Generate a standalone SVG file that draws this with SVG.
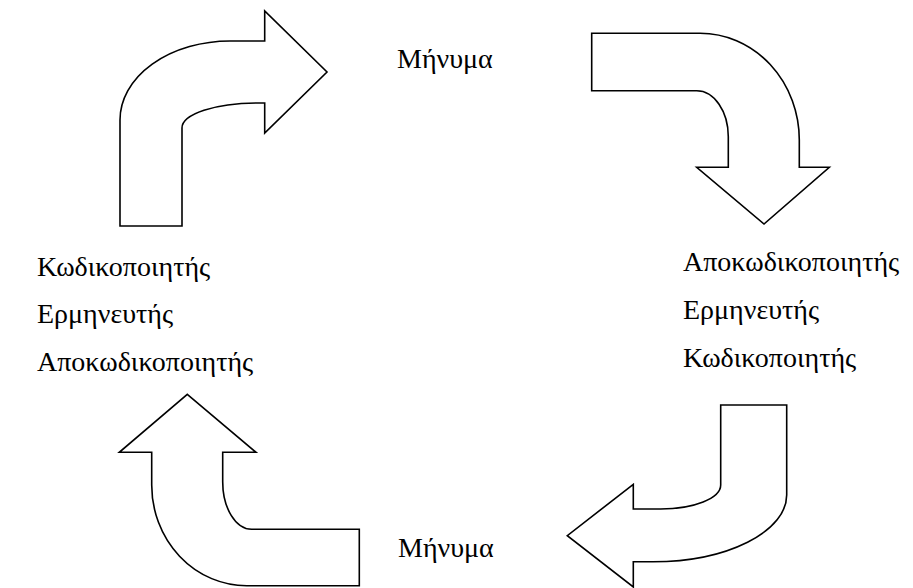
<svg xmlns="http://www.w3.org/2000/svg" width="913" height="588" viewBox="0 0 913 588">
<style>
.arrow{fill:#fff;stroke:#000;stroke-width:1.6;stroke-linejoin:miter}
.t{font-family:"Liberation Serif","DejaVu Serif","Times New Roman",serif;font-size:28px;fill:#000}
</style>
<rect width="913" height="588" fill="#fff"/>
<g id="connectors">
<path id="arrow-top-left" class="arrow" d="M120,226 L120,120 A110,79 0 0 1 230,41 L264.7,41 L264.7,11 L327,72 L264.7,133 L264.7,103 L257,103 A75,25 0 0 0 182,128 L182,226 Z"/>
<path id="arrow-top-right" class="arrow" d="M591.7,33.3 L700,33.3 A99.3,106.7 0 0 1 799.3,140 L799.3,167.3 L829.3,167.3 L764,224 L696.7,167.3 L728.3,167.3 L728.3,136.7 A31.6,46 0 0 0 696.7,90.7 L591.7,90.7 Z"/>
<path id="arrow-bottom-right" class="arrow" d="M720.7,405 L786.7,405 L786.7,495 A133.7,66.7 0 0 1 653,561.7 L633.3,561.7 L633.3,587 L567.3,535.7 L633.3,484.3 L633.3,509 L660.7,509 A60,24 0 0 0 720.7,485 Z"/>
<path id="arrow-bottom-left" class="arrow" d="M187.3,394.3 L256,452.3 L222.7,452.3 L222.7,481.7 A29,47.6 0 0 0 251.7,529.3 L359.3,529.3 L359.3,585.7 L246.7,585.7 A95,100.7 0 0 1 151.7,485 L151.7,452.3 L119.3,452.3 Z"/>
</g>
<g id="message-top"><text class="t" x="397" y="68">Μήνυμα</text></g>
<g id="left-roles">
<text class="t" x="37" y="276">Κωδικοποιητής</text>
<text class="t" x="37" y="323">Ερμηνευτής</text>
<text class="t" x="37" y="371">Αποκωδικοποιητής</text>
</g>
<g id="right-roles">
<text class="t" x="683" y="271">Αποκωδικοποιητής</text>
<text class="t" x="683" y="319">Ερμηνευτής</text>
<text class="t" x="683" y="367">Κωδικοποιητής</text>
</g>
<g id="message-bottom"><text class="t" x="398" y="557">Μήνυμα</text></g>
</svg>
